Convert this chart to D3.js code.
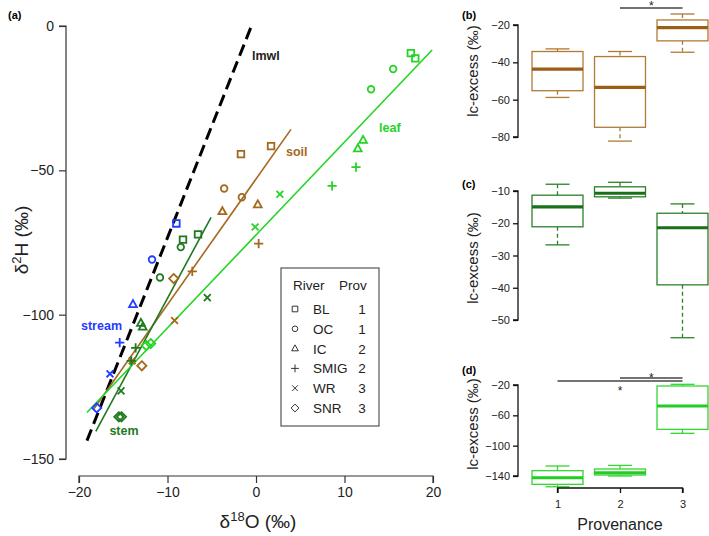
<!DOCTYPE html>
<html><head><meta charset="utf-8">
<script src="https://cdn.jsdelivr.net/npm/d3@7"></script>
<style>body{margin:0;background:#fff}svg{display:block;font-family:"Liberation Sans",Arial,Helvetica,sans-serif}</style>
</head><body><svg id="c" width="709" height="536"></svg>
<script>
// ---------- DATA ----------
const rivers = ["BL","OC","IC","SMIG","WR","SNR"];
const provs = [1,1,2,2,3,3];
const shapeOf = ["square","circle","triangle","plus","x","diamond"];

// panel (a) points: d18O, d2H, river index
const streamX = [-9.0,-11.75,-13.9,-15.4,-16.5,-18.0];
const streamY = [-68.4,-80.9,-96.5,-109.7,-120.5,-132.3];
const streamR = [0,1,2,3,4,5];

const soilX = [-1.7,1.7,-3.6,-1.6,-3.8,0.2,0.3,-7.2,-9.2,-14.0,-9.3,-12.9];
const soilY = [-44.4,-41.6,-56.3,-59.3,-64.3,-61.9,-75.4,-85.0,-102.0,-116.0,-87.5,-117.7];
const soilR = [0,0,1,1,2,2,3,3,4,4,5,5];

const stemX = [-8.25,-6.55,-8.5,-10.85,-13.0,-12.8,-13.6,-14.1,-15.25,-5.5,-15.5,-15.2];
const stemY = [-74.0,-72.2,-76.6,-87.1,-103.0,-104.3,-111.5,-116.0,-126.4,-94.1,-135.4,-135.4];
const stemR = [0,0,1,1,2,2,3,3,4,4,5,5];

const leafX = [17.5,18.0,15.5,13.0,12.1,11.5,11.3,8.6,2.7,-0.1,-12.4,-11.9];
const leafY = [-9.4,-11.2,-14.9,-21.9,-39.6,-42.5,-48.9,-55.4,-58.3,-69.6,-110.7,-110.0];
const leafR = [0,0,1,1,2,2,3,3,4,4,5,5];

// regression / reference lines: slope, intercept, x range
const lineNames = ["lmwl","soil","stem","leaf"];
const lineSlope = [7.73,4.35,5.69,3.22];
const lineIntercept = [4.0,-53.0,-37.4,-72.4];
const lineXmin = [-19.1,-18.3,-18.1,-19.1];
const lineXmax = [-0.56,3.95,-5.08,19.9];

const mainXTicks = [-20,-10,0,10,20];
const mainYTicks = [0,-50,-100,-150];

// boxplot stats [lowWhisker, Q1, median, Q3, highWhisker] per provenance 1,2,3
const provenance = [1,2,3];
const soilBox = [[-58.8,-55.2,-43.6,-34.2,-32.8],[-82.2,-74.8,-53.4,-36.9,-34.2],[-34.6,-28.5,-21.4,-17.3,-14.1]];
const stemBox = [[-26.7,-21.1,-14.9,-11.3,-7.9],[-12.2,-11.8,-10.7,-8.7,-7.3],[-55.5,-39.1,-21.4,-16.9,-14.0]];
const leafBox = [[-154.2,-151.0,-142.3,-133.0,-126.8],[-140.0,-138.7,-135.7,-130.8,-126.0],[-83.7,-78.5,-47.7,-21.3,-19.1]];
const soilTicks = [-20,-40,-60,-80];
const stemTicks = [-10,-20,-30,-40,-50];
const leafTicks = [-20,-60,-100,-140];

// ---------- STYLE ----------
const C = {stream:"#1f3cff", soil:"#a5681f", stem:"#1f7a1f", leaf:"#25d425", lmwl:"#000"};
const minus = v => String(v).replace("-","\u2212");
const svg = d3.select("#c");

function shapePath(s, k){
  k = k||1;
  switch(s){
    case "square": {const a=3.3*k; return `M${-a},${-a}H${a}V${a}H${-a}Z`;}
    case "circle": {const p=d3.path(); p.arc(0,0,3.3*k,0,2*Math.PI); return p.toString();}
    case "triangle": return `M0,${-4.4*k}L${3.9*k},${2.6*k}L${-3.9*k},${2.6*k}Z`;
    case "plus": {const a=4.6*k; return `M${-a},0H${a}M0,${-a}V${a}`;}
    case "x": {const a=3.4*k; return `M${-a},${-a}L${a},${a}M${-a},${a}L${a},${-a}`;}
    case "diamond": {const a=4.6*k; return `M0,${-a}L${a},0L0,${a}L${-a},0Z`;}
  }
}

// ---------- PANEL (a) ----------
const x = d3.scaleLinear().domain([-20,20]).range([79,433]);
const y = d3.scaleLinear().domain([0,-150]).range([26,459]);

const gA = svg.append("g");
const ax = gA.append("g").attr("transform","translate(0,476)")
  .call(d3.axisBottom(x).tickValues(mainXTicks).tickSize(7).tickPadding(4).tickFormat(minus));
const ay = gA.append("g").attr("transform","translate(66,0)")
  .call(d3.axisLeft(y).tickValues(mainYTicks).tickSize(7).tickPadding(5).tickFormat(minus));
[ax,ay].forEach(g=>{
  g.selectAll("path,line").attr("stroke","#333").attr("stroke-width",1.2);
  g.selectAll("text").attr("font-size",14).attr("fill","#222").attr("font-family","Liberation Sans, Arial, sans-serif");
});
ax.select(".domain").attr("d",`M${x(-20)},7V0H${x(20)}V7`);
ay.select(".domain").attr("d",`M-7,${y(0)}H0V${y(-150)}H-7`);

// lines
const lineColors = [C.lmwl,C.soil,C.stem,C.leaf];
lineNames.forEach((n,i)=>{
  gA.append("line")
    .attr("x1",x(lineXmin[i])).attr("y1",y(lineSlope[i]*lineXmin[i]+lineIntercept[i]))
    .attr("x2",x(lineXmax[i])).attr("y2",y(lineSlope[i]*lineXmax[i]+lineIntercept[i]))
    .attr("stroke",lineColors[i])
    .attr("stroke-width", i===0?3:1.6)
    .attr("stroke-dasharray", i===0?"12,6":null);
});

function drawPts(xs,ys,rs,col){
  xs.forEach((v,i)=>{
    gA.append("path").attr("d",shapePath(shapeOf[rs[i]]))
      .attr("transform",`translate(${x(v)},${y(ys[i])})`)
      .attr("fill","none").attr("stroke",col).attr("stroke-width",1.8);
  });
}
drawPts(soilX,soilY,soilR,C.soil);
drawPts(stemX,stemY,stemR,C.stem);
drawPts(leafX,leafY,leafR,C.leaf);
drawPts(streamX,streamY,streamR,C.stream);

const lab = (t,xx,yy,col,anchor)=>gA.append("text").text(t).attr("x",xx).attr("y",yy)
  .attr("fill",col).attr("font-size",12.5).attr("font-weight","bold").attr("text-anchor",anchor||"start");
lab("lmwl",252,60,"#222");
lab("soil",286,156,C.soil);
lab("leaf",379,132,C.leaf);
lab("stream",81,330,C.stream);
lab("stem",124,435,C.stem,"middle");

gA.append("text").text("(a)").attr("x",8).attr("y",19).attr("font-size",11).attr("font-weight","bold");

// axis titles
const yt = gA.append("text").attr("transform","translate(28,240) rotate(-90)").attr("text-anchor","middle")
  .attr("font-size",19).attr("fill","#222");
yt.append("tspan").text("\u03b4");
yt.append("tspan").text("2").attr("font-size",13).attr("dy",-7);
yt.append("tspan").text("H (\u2030)").attr("dy",7);
const xt = gA.append("text").attr("x",258).attr("y",528).attr("text-anchor","middle")
  .attr("font-size",19).attr("fill","#222");
xt.append("tspan").text("\u03b4");
xt.append("tspan").text("18").attr("font-size",13).attr("dy",-7);
xt.append("tspan").text("O (\u2030)").attr("dy",7);

// legend
const lg = gA.append("g");
lg.append("rect").attr("x",281).attr("y",268).attr("width",98).attr("height",158)
  .attr("fill","#fff").attr("stroke","#555").attr("stroke-width",1.2);
lg.append("text").text("River").attr("x",293).attr("y",290).attr("font-size",13.5).attr("fill","#222");
lg.append("text").text("Prov").attr("x",339).attr("y",290).attr("font-size",13.5).attr("fill","#222");
rivers.forEach((r,i)=>{
  const cy = 309 + i*19.8;
  lg.append("path").attr("d",shapePath(shapeOf[i],0.85)).attr("transform",`translate(295,${cy})`)
    .attr("fill","none").attr("stroke","#333").attr("stroke-width",1);
  lg.append("text").text(r).attr("x",313).attr("y",cy+5).attr("font-size",13.5).attr("fill","#222");
  lg.append("text").text(provs[i]).attr("x",362).attr("y",cy+5).attr("text-anchor","middle").attr("font-size",13.5).attr("fill","#222");
});

// ---------- BOXPLOT PANELS ----------
const bx = d3.scaleLinear().domain([1,3]).range([557.5,682.5]);
function boxPanel(stats, ticks, yTop, yBot, col, medCol, label, labY, titleY){
  const ys = d3.scaleLinear().domain([ticks[0],ticks[ticks.length-1]]).range([yTop,yBot]);
  const g = svg.append("g");
  const a = g.append("g").attr("transform","translate(518,0)")
    .call(d3.axisLeft(ys).tickValues(ticks).tickSize(5).tickPadding(3).tickFormat(minus));
  a.selectAll("path,line").attr("stroke","#111").attr("stroke-width",1.3);
  a.select(".domain").attr("d",`M-5,${yTop}H0V${yBot}H-5`);
  a.selectAll("text").attr("font-size",11).attr("fill","#222").attr("font-family","Liberation Sans, Arial, sans-serif");
  const hw = 25.5, cw = 12;
  stats.forEach((s,i)=>{
    const cx = bx(provenance[i]);
    g.append("line").attr("x1",cx).attr("x2",cx).attr("y1",ys(s[4])).attr("y2",ys(s[3]))
      .attr("stroke",col).attr("stroke-width",1.3).attr("stroke-dasharray","4,3");
    g.append("line").attr("x1",cx).attr("x2",cx).attr("y1",ys(s[1])).attr("y2",ys(s[0]))
      .attr("stroke",col).attr("stroke-width",1.3).attr("stroke-dasharray","4,3");
    [s[0],s[4]].forEach(v=>g.append("line").attr("x1",cx-cw).attr("x2",cx+cw).attr("y1",ys(v)).attr("y2",ys(v))
      .attr("stroke",col).attr("stroke-width",1.3));
    g.append("rect").attr("x",cx-hw).attr("width",hw*2).attr("y",ys(s[3])).attr("height",ys(s[1])-ys(s[3]))
      .attr("fill","#fff").attr("stroke",col).attr("stroke-width",1.3);
    g.append("line").attr("x1",cx-hw).attr("x2",cx+hw).attr("y1",ys(s[2])).attr("y2",ys(s[2]))
      .attr("stroke",medCol).attr("stroke-width",3.2);
  });
  g.append("text").text(label).attr("x",462).attr("y",labY).attr("font-size",11).attr("font-weight","bold");
  g.append("text").text("lc-excess (\u2030)").attr("transform",`translate(478,${titleY}) rotate(-90)`)
    .attr("text-anchor","middle").attr("font-size",15).attr("fill","#222");
  return {g, ys};
}
const pb = boxPanel(soilBox, soilTicks, 25, 137, "#b07a35", "#9a5e15", "(b)", 19, 71);
const pc = boxPanel(stemBox, stemTicks, 191, 320, "#2a822a", "#1a701a", "(c)", 188, 258);
const pd = boxPanel(leafBox, leafTicks, 385, 476, "#33d633", "#22cc22", "(d)", 374, 424);

// significance marks
function sig(g, p1, p2, yy, starY){
  g.append("line").attr("x1",bx(p1)).attr("x2",bx(p2)).attr("y1",yy).attr("y2",yy).attr("stroke","#444").attr("stroke-width",1.3);
  g.append("text").text("*").attr("x",(bx(p1)+bx(p2))/2).attr("y",starY).attr("text-anchor","middle").attr("font-size",12).attr("fill","#222");
}
sig(pb.g, 2, 3, 8, 10);
sig(pd.g, 1, 3, 381, 395);
sig(pd.g, 2, 3, 378, 382);

// x axis for (d)
const axd = pd.g.append("g").attr("transform","translate(0,488)")
  .call(d3.axisBottom(bx).tickValues(provenance).tickSize(5).tickPadding(7).tickFormat(d3.format("d")));
axd.selectAll("path,line").attr("stroke","#111").attr("stroke-width",1.3);
axd.select(".domain").attr("d",`M${bx(1)},5V0H${bx(3)}V5`);
axd.selectAll("text").attr("font-size",11).attr("fill","#222").attr("font-family","Liberation Sans, Arial, sans-serif");
pd.g.append("text").text("Provenance").attr("x",620).attr("y",530).attr("text-anchor","middle").attr("font-size",16).attr("fill","#222");
</script></body></html>
